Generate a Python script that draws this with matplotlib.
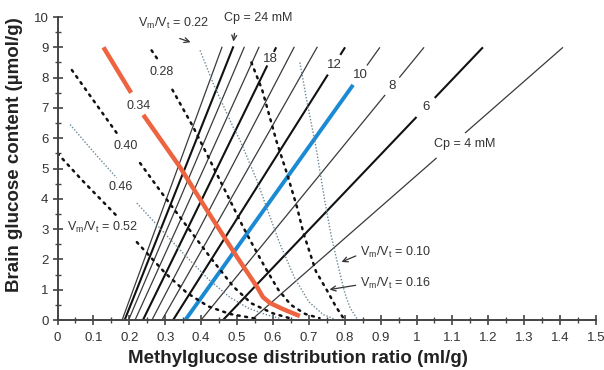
import numpy as np
import matplotlib
matplotlib.use("Agg")
import matplotlib.pyplot as plt
from matplotlib.ticker import MultipleLocator, FormatStrFormatter

########
# DATA #
########
# Cp isolines (mM): x where the line meets y = 0 and x where it reaches y = 9
cp_values = [26, 24, 22, 20, 18, 16, 14, 12, 10, 8, 6, 4]
cp_x0 = [0.180, 0.187, 0.198, 0.216, 0.238, 0.263, 0.291, 0.322, 0.356, 0.400, 0.461, 0.540]
cp_xtop = [0.458, 0.489, 0.520, 0.561, 0.609, 0.659, 0.723, 0.801, 0.898, 1.021, 1.185, 1.408]
cp_ytop = 9.0
# y-range where a line is broken for its label
cp_gaps = {18: (8.4, 8.85), 12: (8.1, 8.75), 10: (7.76, 8.4), 8: (7.43, 8.0),
           6: (6.7, 7.33), 4: (5.35, 6.17)}
cp_labels = {18: "18", 12: "12", 10: "10", 8: "8", 6: "6", 4: "Cp = 4 mM"}

# Vm/Vt curves (NaN = break for label)
nan = np.nan
vm_010_x = [0.675, 0.695, 0.72, 0.745, 0.762, 0.781, 0.80, 0.815, 0.834]
vm_010_y = [8.5, 7.2, 5.7, 3.9, 2.8, 1.82, 0.9, 0.4, 0.05]
vm_016_x = [0.54, 0.57, 0.61, 0.639, 0.667, 0.685, 0.72, 0.75, 0.775, 0.796]
vm_016_y = [8.5, 7.6, 5.9, 4.84, 3.73, 2.87, 1.6, 0.99, 0.45, 0.07]
vm_022_x = [0.397, 0.434, 0.489, 0.508, 0.555, 0.592, 0.62, 0.66, 0.70, 0.74, 0.77]
vm_022_y = [8.9, 7.8, 6.37, 5.94, 4.62, 3.4, 2.5, 1.4, 0.6, 0.18, 0.04]
vm_028_x = [0.262, 0.282, nan, 0.32, 0.378, 0.434, 0.48, 0.517, 0.545, 0.58, 0.615, 0.65, 0.69, 0.73]
vm_028_y = [8.9, 8.55, nan, 7.6, 6.37, 5.05, 3.96, 3.07, 2.45, 1.7, 1.0, 0.5, 0.2, 0.06]
vm_034_x = [0.128, 0.205, nan, 0.239, 0.341, 0.416, 0.5, 0.556, 0.572, 0.592, 0.628, 0.675]
vm_034_y = [9.0, 7.5, nan, 6.77, 5.05, 3.63, 2.08, 1.09, 0.76, 0.56, 0.36, 0.13]
vm_040_x = [0.04, 0.10, 0.165, nan, 0.23, 0.29, 0.36, 0.43, 0.49, 0.54, 0.60, 0.65]
vm_040_y = [8.25, 7.25, 6.17, nan, 5.18, 4.2, 3.1, 2.0, 1.1, 0.55, 0.22, 0.05]
vm_046_x = [0.035, 0.10, 0.165, nan, 0.221, 0.28, 0.35, 0.42, 0.48, 0.53, 0.58, 0.62]
vm_046_y = [6.45, 5.55, 4.69, nan, 3.86, 3.1, 2.2, 1.35, 0.75, 0.4, 0.18, 0.05]
vm_052_x = [0.0, 0.068, 0.168, nan, 0.221, 0.30, 0.36, 0.42, 0.48, 0.55]
vm_052_y = [5.5, 4.62, 3.4, nan, 2.57, 1.55, 0.9, 0.45, 0.2, 0.05]

GREY = "#333333"
LIGHT = "#6d8896"
RED = "#ee6440"
BLUE = "#1a8ad4"


def main():
    plt.rcParams["font.family"] = ["Liberation Sans", "DejaVu Sans"]
    plt.rcParams["mathtext.fontset"] = "custom"
    plt.rcParams["mathtext.rm"] = "Liberation Sans"

    ##########
    # LAYOUT #
    ##########
    fig = plt.figure(figsize=(6.04, 3.70), dpi=100)
    ax = fig.add_axes([0.0952, 0.1351, 0.8916, 0.8189])
    ax.set_xlim(0, 1.5)
    ax.set_ylim(0, 10)

    ############
    # PLOTTING #
    ############
    # Cp lines
    for cp, x0, xt in zip(cp_values, cp_x0, cp_xtop):
        thick = cp in (24, 18, 12, 6)
        lw = 1.5 if thick else 0.9
        col = "#111111" if thick else "#3a3a3a"
        slope = cp_ytop / (xt - x0)
        xat = lambda yy: x0 + yy / slope
        if cp in cp_gaps:
            g0, g1 = cp_gaps[cp]
            lo_col = BLUE if cp == 10 else col
            lo_lw = 2.8 if cp == 10 else lw
            ax.plot([x0, xat(g0)], [0, g0], color=lo_col, lw=lo_lw, solid_capstyle="butt")
            ax.plot([xat(g1), xt], [g1, cp_ytop], color=col, lw=lw, solid_capstyle="butt")
            ym = (g0 + g1) / 2
            if cp == 4:
                ax.text(xat(ym) + 0.04, ym + 0.05, cp_labels[cp], fontsize=9, color=GREY,
                        ha="center", va="center")
            else:
                ax.text(xat(ym), ym, cp_labels[cp], fontsize=9.5, color=GREY,
                        ha="center", va="center")
        else:
            ax.plot([x0, xt], [0, cp_ytop], color=col, lw=lw)

    # Vm/Vt curves
    heavy = dict(color="#111111", lw=1.8, linestyle=(0, (0.8, 2.2)), dash_capstyle="round")
    light = dict(color=LIGHT, lw=1.0, linestyle=(0, (1, 1.3)))
    ax.plot(vm_010_x, vm_010_y, **light)
    ax.plot(vm_016_x, vm_016_y, **heavy)
    ax.plot(vm_022_x, vm_022_y, **light)
    ax.plot(vm_028_x, vm_028_y, **heavy)
    ax.plot(vm_034_x, vm_034_y, color=RED, lw=3.2, solid_capstyle="butt")
    ax.plot(vm_040_x, vm_040_y, **heavy)
    ax.plot(vm_046_x, vm_046_y, **light)
    ax.plot(vm_052_x, vm_052_y, **heavy)

    vmvt = r"V$_\mathregular{m}$/V$_\mathregular{t}$ = "
    tk = dict(fontsize=9, color=GREY, va="center")
    ax.text(0.29, 8.18, "0.28", ha="center", **tk)
    ax.text(0.225, 7.06, "0.34", ha="center", **tk)
    ax.text(0.19, 5.75, "0.40", ha="center", **tk)
    ax.text(0.176, 4.39, "0.46", ha="center", **tk)
    ax.text(0.126, 3.04, vmvt + "0.52", ha="center", **tk)
    ax.text(0.322, 9.8, vmvt + "0.22", ha="center", clip_on=False, **tk)
    ax.text(0.558, 9.98, "Cp = 24 mM", ha="center", clip_on=False, **tk)
    ax.text(0.843, 2.24, vmvt + "0.10", ha="left", **tk)
    ax.text(0.843, 1.22, vmvt + "0.16", ha="left", **tk)

    arr = dict(arrowstyle="->", color=GREY, lw=0.9, mutation_scale=9)
    ax.annotate("", xy=(0.378, 9.14), xytext=(0.333, 9.32), arrowprops=arr)
    ax.annotate("", xy=(0.489, 9.1), xytext=(0.494, 9.55), arrowprops=arr)
    ax.annotate("", xy=(0.784, 1.88), xytext=(0.838, 2.15), arrowprops=arr)
    ax.annotate("", xy=(0.75, 0.99), xytext=(0.838, 1.16), arrowprops=arr)

    ########
    # AXES #
    ########
    for s in ("top", "right"):
        ax.spines[s].set_visible(False)
    for s in ("left", "bottom"):
        ax.spines[s].set_color("#444444")
        ax.spines[s].set_linewidth(1.4)
    ax.xaxis.set_major_locator(MultipleLocator(0.1))
    ax.xaxis.set_minor_locator(MultipleLocator(0.05))
    ax.yaxis.set_major_locator(MultipleLocator(1))
    ax.yaxis.set_minor_locator(MultipleLocator(0.5))
    ax.xaxis.set_major_formatter(FormatStrFormatter("%g"))
    ax.tick_params(which="major", direction="inout", length=7, width=1.2,
                   colors="#444444", labelsize=9.5, labelcolor=GREY)
    ax.tick_params(which="minor", direction="inout", length=4, width=1.0, colors="#444444")
    ax.tick_params(axis="x", pad=5)
    ax.tick_params(axis="y", pad=3)
    ax.set_xlabel("Methylglucose distribution ratio (ml/g)", fontsize=13.5,
                  fontweight="bold", color="#222222")
    ax.set_ylabel("Brain glucose content (µmol/g)", fontsize=13.5,
                  fontweight="bold", color="#222222")
    ax.xaxis.set_label_coords(0.447, -0.10)
    ax.yaxis.set_label_coords(-0.064, 0.545)

    fig.savefig("out.png", dpi=100)


if __name__ == "__main__":
    main()
